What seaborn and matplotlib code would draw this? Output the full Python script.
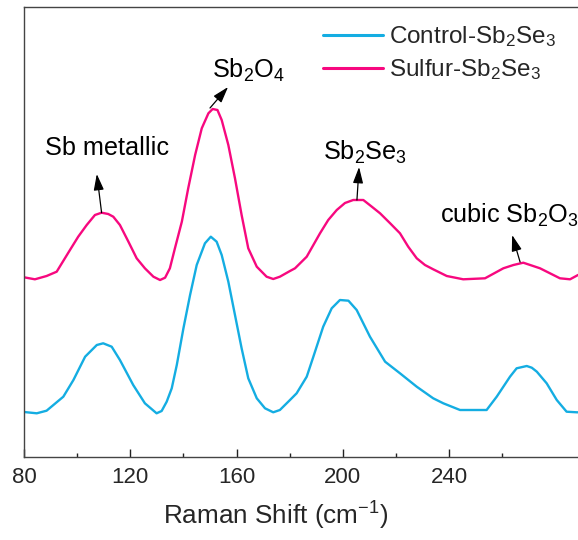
import numpy as np
import pandas as pd
import matplotlib
matplotlib.use("Agg")
import matplotlib.pyplot as plt
import seaborn as sns

# ---- data (Raman shift in cm^-1, intensity in arbitrary offset units) ----
control_x = [80.0, 84.8, 88.5, 94.8, 98.6, 103.0, 107.4, 109.8, 113.0, 116.1, 121.1, 125.5,
             129.9, 131.8, 133.7, 135.6, 137.5, 140.0, 142.5, 145.0, 148.1, 150.3, 152.5, 154.4,
             156.9, 159.4, 161.9, 164.4, 167.6, 170.7, 173.8, 176.3, 180.1, 182.6, 186.4, 188.9,
             192.6, 195.8, 198.9, 202.1, 205.2, 210.2, 215.9, 221.5, 227.8, 234.0, 237.8, 244.1,
             254.1, 257.9, 262.9, 265.4, 269.2, 271.1, 273.0, 276.7, 280.5, 284.2, 288.0, 290.0]
control_y = [45, 43.7, 46.3, 60.3, 77, 100.3, 112, 113.7, 110.3, 97, 72, 53.7,
             43.7, 46, 55.3, 68.7, 92, 128.7, 162, 192, 213.7, 220.3, 215.3, 202,
             175.3, 142, 108.7, 78.7, 58.7, 48.7, 44.7, 47, 57, 63.7, 80.3, 100.3,
             130.3, 148.7, 157, 156.3, 147, 120.3, 95.3, 83.7, 70.3, 58.7, 53.7, 47,
             47, 60.3, 80.3, 88.7, 91, 89.3, 85.3, 73.7, 57, 45.3, 44.7, 44.7]

sulfur_x = [80.0, 84.1, 88.5, 92.3, 97.3, 100.4, 103.6, 106.7, 109.2, 111.7, 113.6, 116.1,
            119.3, 122.4, 125.5, 128.7, 131.2, 133.1, 134.9, 136.8, 139.4, 141.8, 144.4, 146.9,
            149.4, 151.0, 152.8, 154.4, 156.9, 159.4, 161.9, 164.4, 167.6, 171.3, 173.8, 176.3,
            180.1, 182.0, 186.4, 191.4, 194.5, 197.7, 200.8, 203.9, 207.7, 210.9, 214.0, 217.8,
            221.5, 224.6, 227.8, 230.9, 234.0, 239.1, 245.3, 253.5, 260.4, 264.2, 267.9, 274.2,
            281.7, 285.5, 288.5, 290.0]
sulfur_y = [179.7, 177.7, 181, 185.3, 207, 220.3, 232, 242, 244.3, 243, 240.3, 232,
            215.3, 198.7, 188.7, 180.3, 177, 179.3, 188.7, 208.7, 235.3, 268.7, 302, 328.7,
            343.7, 348, 347, 337, 312, 278.7, 242, 208.7, 190.3, 180.3, 178, 180.3,
            186, 188.7, 200.3, 223.7, 237, 247, 254, 257, 257, 250.3, 243.7, 233.7,
            223.7, 210.3, 198.7, 192, 187.7, 181, 177.7, 178.7, 188.7, 192, 194.3, 188.7,
            178.7, 177.7, 182, 183]

series_names = ["Control-Sb$_2$Se$_3$", "Sulfur-Sb$_2$Se$_3$"]
series_colors = ["#14ADE2", "#F7087F"]

x_ticks = [80, 120, 160, 200, 240]
x_label = "Raman Shift (cm$^{-1}$)"

annotations = [
    ("Sb metallic",            (109.2, 244.3), (107.4, 283), (111.2, 309)),
    ("Sb$_2$O$_4$",            (150.0, 349),   (156.8, 370), (164.3, 387)),
    ("Sb$_2$Se$_3$",           (205.3, 257),   (206.1, 290), (208.3, 305)),
    ("cubic Sb$_2$O$_3$",      (266.7, 195),   (263.7, 222), (262.8, 242)),
]

df = pd.concat([
    pd.DataFrame({"shift": control_x, "intensity": control_y, "sample": series_names[0]}),
    pd.DataFrame({"shift": sulfur_x, "intensity": sulfur_y, "sample": series_names[1]}),
], ignore_index=True)

sns.set_theme(style="ticks")
plt.rcParams["font.family"] = ["Liberation Sans", "DejaVu Sans"]
plt.rcParams["mathtext.fontset"] = "custom"
plt.rcParams["mathtext.rm"] = "Liberation Sans"
plt.rcParams["mathtext.it"] = "Liberation Sans:italic"
plt.rcParams["mathtext.bf"] = "Liberation Sans:bold"
plt.rcParams["mathtext.default"] = "regular"

fig = plt.figure(figsize=(5.78, 5.40), dpi=100)
ax = fig.add_axes([24 / 578, 83 / 540, 558 / 578, 450 / 540])

sns.lineplot(data=df, x="shift", y="intensity", hue="sample", palette=series_colors,
             hue_order=series_names, linewidth=1.7, sort=False, estimator=None, ax=ax)

ax.set_xlim(80, 290)
ax.set_ylim(0, 450)
ax.set_xticks(x_ticks)
ax.set_xticks([100, 140, 180, 220, 260], minor=True)
ax.set_yticks([])
ax.tick_params(axis="x", which="major", direction="in", length=6, width=1,
               labelsize=16, pad=7, color="#222222")
ax.tick_params(axis="x", which="minor", direction="in", length=3, width=1, color="#222222")
ax.set_xlabel(x_label, fontsize=18.8, labelpad=6)
ax.xaxis.set_label_coords((276 - 24) / 558, -0.095)
ax.set_ylabel("")
for side in ["left", "bottom", "top", "right"]:
    ax.spines[side].set_visible(True)
    ax.spines[side].set_color("#444444")
    ax.spines[side].set_linewidth(1.0)

for text, tail, head, tpos in annotations:
    ax.annotate("", xy=head, xytext=tail,
                arrowprops=dict(arrowstyle="-|>,head_length=0.7,head_width=0.22",
                                color="black", lw=0.9,
                                mutation_scale=14, shrinkA=0, shrinkB=0))
    ax.text(tpos[0], tpos[1], text, fontsize=18.2, ha="center", va="center", color="black")

leg = ax.legend(loc="upper left", bbox_to_anchor=(0.505, 1.0), frameon=False,
                fontsize=17.5, handlelength=2.47, handletextpad=0.25, labelspacing=0.35,
                borderaxespad=0.3)
for line in leg.get_lines():
    line.set_linewidth(2.2)

fig.savefig("out.png", dpi=100)
